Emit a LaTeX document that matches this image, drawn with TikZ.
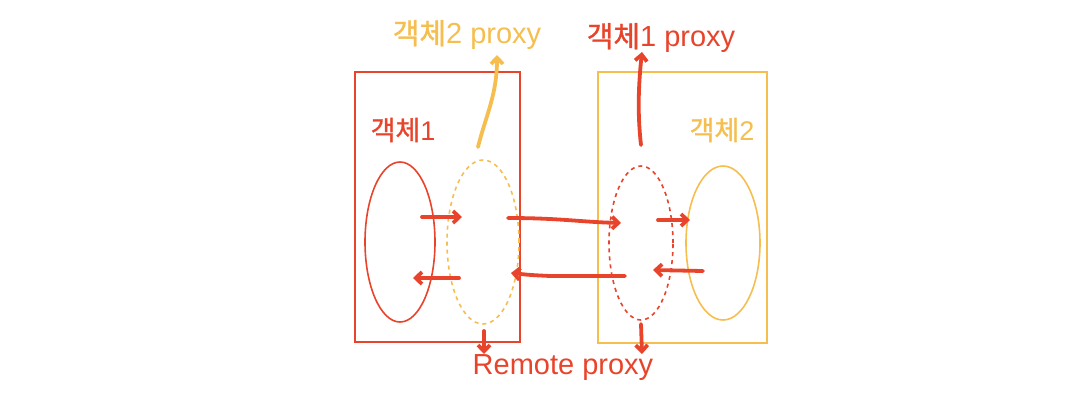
\documentclass[tikz,border=0pt]{standalone}
\usepackage{fontspec}
\setmainfont{Liberation Sans}
\newfontfamily\kr[FakeBold=1.2]{Noto Sans CJK KR}
\usepackage{tikz}
\usetikzlibrary{arrows.meta, positioning, calc, shapes.geometric}
\definecolor{objred}{HTML}{E8442B}
\definecolor{objyellow}{HTML}{F5BE4F}
\tikzset{
  objbox/.style={draw=objred, line width=1.6pt},
  objboxY/.style={objbox, draw=objyellow},
  objell/.style={ellipse, draw=objred, line width=1.6pt, inner sep=0pt},
  objellY/.style={objell, draw=objyellow},
  proxyell/.style={objell, dashed, dash pattern=on 4pt off 4pt},
  proxyellY/.style={proxyell, draw=objyellow},
  tlbl/.style={font=\fontsize{27}{29}\selectfont, text=objred, inner sep=0pt},
  tlblY/.style={tlbl, text=objyellow},
  tflow/.style={-{Straight Barb[length=2.2mm, width=4.2mm]}, line width=3.8pt, objred, line cap=round},
  tflowY/.style={tflow, objyellow},
}
\begin{document}
\begin{tikzpicture}[x=1pt, y=-1pt]
    \useasboundingbox (0,0) rectangle (1080,408);
    % boxes
    \node[objbox, minimum width=165pt, minimum height=270pt] (box1) at (437.5,207) {};
    \node[objboxY, minimum width=169pt, minimum height=271pt] (box2) at (682.5,207.5) {};
    % objects and proxies
    \node[objell, minimum width=70pt, minimum height=160pt] (obj1) at (400,242) {};
    \node[proxyellY, minimum width=72pt, minimum height=164pt] (proxy2) at (483,242) {};
    \node[proxyell, minimum width=64pt, minimum height=154pt] (proxy1) at (641,243) {};
    \node[objellY, minimum width=74pt, minimum height=154pt] (obj2) at (723,243) {};
    % labels
    \node[tlbl] (lbl1) at (403,130) {{\kr 객체}1};
    \node[tlblY] (lbl2) at (722,130) {{\kr 객체}2};
    \node[tlblY, font=\fontsize{29}{31}\selectfont] (lblp2) at (467,35) {{\kr 객체}2 proxy};
    \node[tlbl, font=\fontsize{29}{31}\selectfont] (lblp1) at (661,38) {{\kr 객체}1 proxy};
    \node[tlbl, font=\fontsize{29}{31}\selectfont] (remote) at (563,368) {Remote proxy};
    % arrow ends
    \coordinate (a1) at (422,217); \coordinate (a2) at (462,217);
    \coordinate (b1) at (508,218); \coordinate (b2) at (621,223);
    \coordinate (c1) at (658,220); \coordinate (c2) at (690,220);
    \coordinate (d1) at (703,271); \coordinate (d2) at (653,270);
    \coordinate (e1) at (625,276); \coordinate (e2) at (511,273);
    \coordinate (f1) at (459,278); \coordinate (f2) at (413,278);
    \coordinate (g1) at (478,147); \coordinate (g2) at (497,55);
    \coordinate (h1) at (641,145); \coordinate (h2) at (642,52);
    \coordinate (r1) at (484,331); \coordinate (r2) at (641,324);
    % calls
    \draw[tflow] (a1) -- (a2);
    \draw[tflow] (b1) .. controls (560,218) and (580,222) .. (b2);
    \draw[tflow] (c1) -- (c2);
    \draw[tflow] (d1) -- (d2);
    \draw[tflow] (e1) -- (550,276) .. controls (530,275) .. (e2);
    \draw[tflow] (f1) -- (f2);
    \draw[tflowY] (g1) .. controls (486,115) and (497,95) .. (g2);
    \draw[tflow] (h1) .. controls (637,110) and (639,80) .. (h2);
    \draw[tflow] (r1) -- (484,354);
    \draw[tflow] (r2) -- (642,354);
\end{tikzpicture}
\end{document}
